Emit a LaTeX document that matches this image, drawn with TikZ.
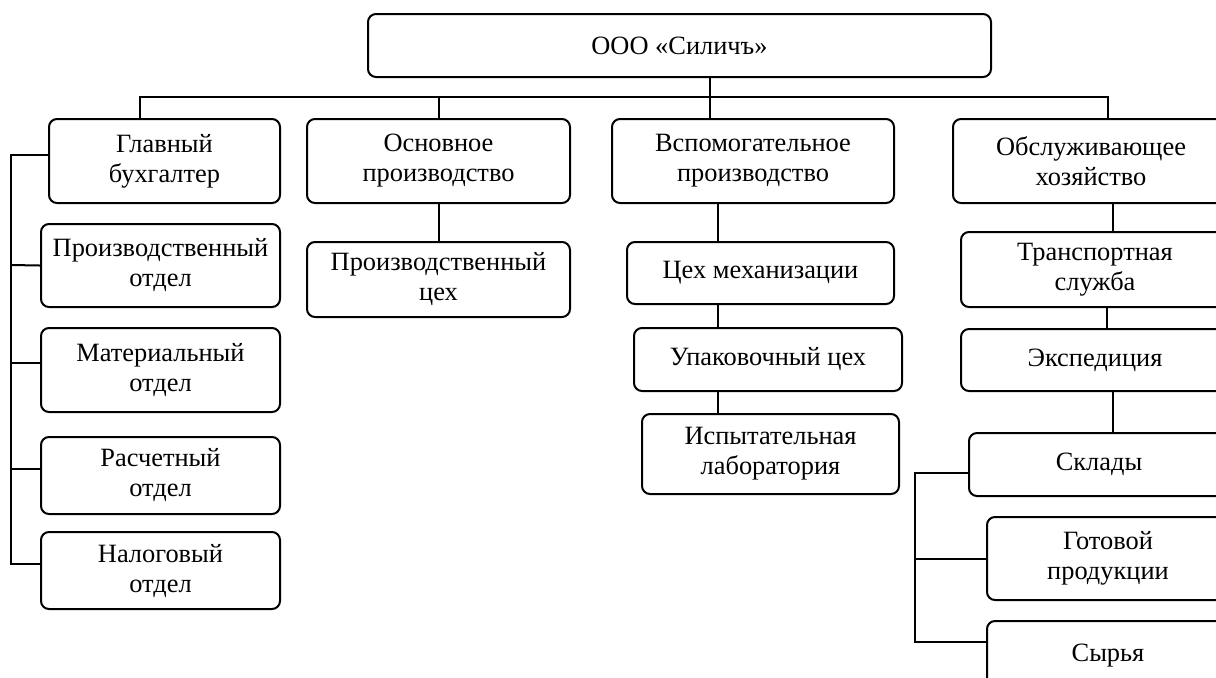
\documentclass[tikz,border=0pt]{standalone}
\usepackage{fontspec}
\setmainfont{Liberation Serif}

\definecolor{linecolor}{RGB}{0,0,0}

\tikzset{
    unit/.style={draw=linecolor, line width=1pt, rounded corners=4pt, align=center,
        inner sep=0pt, font=\fontsize{13.2}{15}\selectfont},
    link/.style={draw=linecolor, line width=1pt},
}

\begin{document}
\begin{tikzpicture}[x=0.5pt,y=-0.5pt]
    % Page frame, the right and bottom boxes run past it
    \useasboundingbox (0,0) rectangle (1216,677);
    \clip (0,0) rectangle (1216,677);

    % Top of the structure
    \node[unit, minimum width=311.5pt, minimum height=31.5pt] (ooo) at (679.5,45.5) {ООО «Силичъ»};

    % First level
    \node[unit, minimum width=115.5pt, minimum height=42pt] (glav) at (164.5,161) {Главный\\бухгалтер};
    \node[unit, minimum width=131.5pt, minimum height=42pt] (osn) at (438.5,161) {Основное\\производство};
    \node[unit, minimum width=141pt, minimum height=42pt] (vsp) at (753,161) {Вспомогательное\\производство};
    \node[unit, minimum width=138pt, minimum height=42pt] (obs) at (1091,161) {Обслуживающее\\хозяйство};

    % Departments under the accountant
    \node[unit, minimum width=119.5pt, minimum height=41.5pt] (potd) at (160.5,265.5) {Производственный\\отдел};
    \node[unit, minimum width=119.5pt, minimum height=42pt] (mat) at (160.5,370) {Материальный\\отдел};
    \node[unit, minimum width=119.5pt, minimum height=38.5pt] (rasch) at (160.5,475.5) {Расчетный\\отдел};
    \node[unit, minimum width=119.5pt, minimum height=38.5pt] (nal) at (160.5,570.5) {Налоговый\\отдел};

    % Main production
    \node[unit, minimum width=131.5pt, minimum height=37.5pt] (pceh) at (438.5,279.5) {Производственный\\цех};

    % Auxiliary production
    \node[unit, minimum width=133.5pt, minimum height=31pt] (mech) at (760.5,273) {Цех механизации};
    \node[unit, minimum width=134pt, minimum height=31.5pt] (upak) at (768,359.5) {Упаковочный цех};
    \node[unit, minimum width=128.5pt, minimum height=40pt] (isp) at (770.5,454) {Испытательная\\лаборатория};

    % Service economy
    \node[unit, minimum width=134pt, minimum height=37.5pt] (trans) at (1095,269.5) {Транспортная\\служба};
    \node[unit, minimum width=134pt, minimum height=31pt] (exp) at (1095,360) {Экспедиция};
    \node[unit, minimum width=130pt, minimum height=31.5pt] (skl) at (1099,464.5) {Склады};
    \node[unit, minimum width=121pt, minimum height=41.5pt] (got) at (1108,558.5) {Готовой\\продукции};
    \node[unit, minimum width=121pt, minimum height=34.5pt] (syr) at (1108,655.5) {Сырья};

    % Bus lines
    \coordinate (bus) at (710,97);
    \coordinate (lbus) at (11,265);
    \coordinate (vcol) at (718,300);
    \coordinate (ocol) at (1113,300);
    \coordinate (ocol2) at (1107,300);
    \coordinate (sbus) at (915,558.5);

    % Connect the top level
    \draw[link] ([xshift=-12.25pt]glav.north) |- (bus) -| ([xshift=8.5pt]obs.north);
    \draw[link] (osn.north) -- (osn.north |- bus);
    \draw[link] (ooo.south -| bus) -- (vsp.north -| bus);

    % Left branch
    \draw[link] ([yshift=3pt]glav.west) -| (lbus);
    \draw[link] (potd.west) -- (lbus);
    \draw[link] ([yshift=3.5pt]mat.west) -| (lbus);
    \draw[link] ([yshift=3.5pt]rasch.west) -| (lbus);
    \draw[link] ([yshift=3.5pt]nal.west) -| (lbus);

    % Middle columns
    \draw[link] (osn.south) -- (pceh.north);
    \draw[link] (vsp.south -| vcol) -- (mech.north -| vcol);
    \draw[link] (mech.south -| vcol) -- (upak.north -| vcol);
    \draw[link] (upak.south -| vcol) -- (isp.north -| vcol);

    % Right column
    \draw[link] (obs.south -| ocol) -- (trans.north -| ocol);
    \draw[link] (trans.south -| ocol2) -- (exp.north -| ocol2);
    \draw[link] (exp.south -| ocol) -- (skl.north -| ocol);

    % Stores
    \draw[link] ([yshift=-4.25pt]skl.west) -| (sbus);
    \draw[link] (got.west) -- (sbus);
    \draw[link] ([yshift=6.75pt]syr.west) -| (sbus);
\end{tikzpicture}
\end{document}
